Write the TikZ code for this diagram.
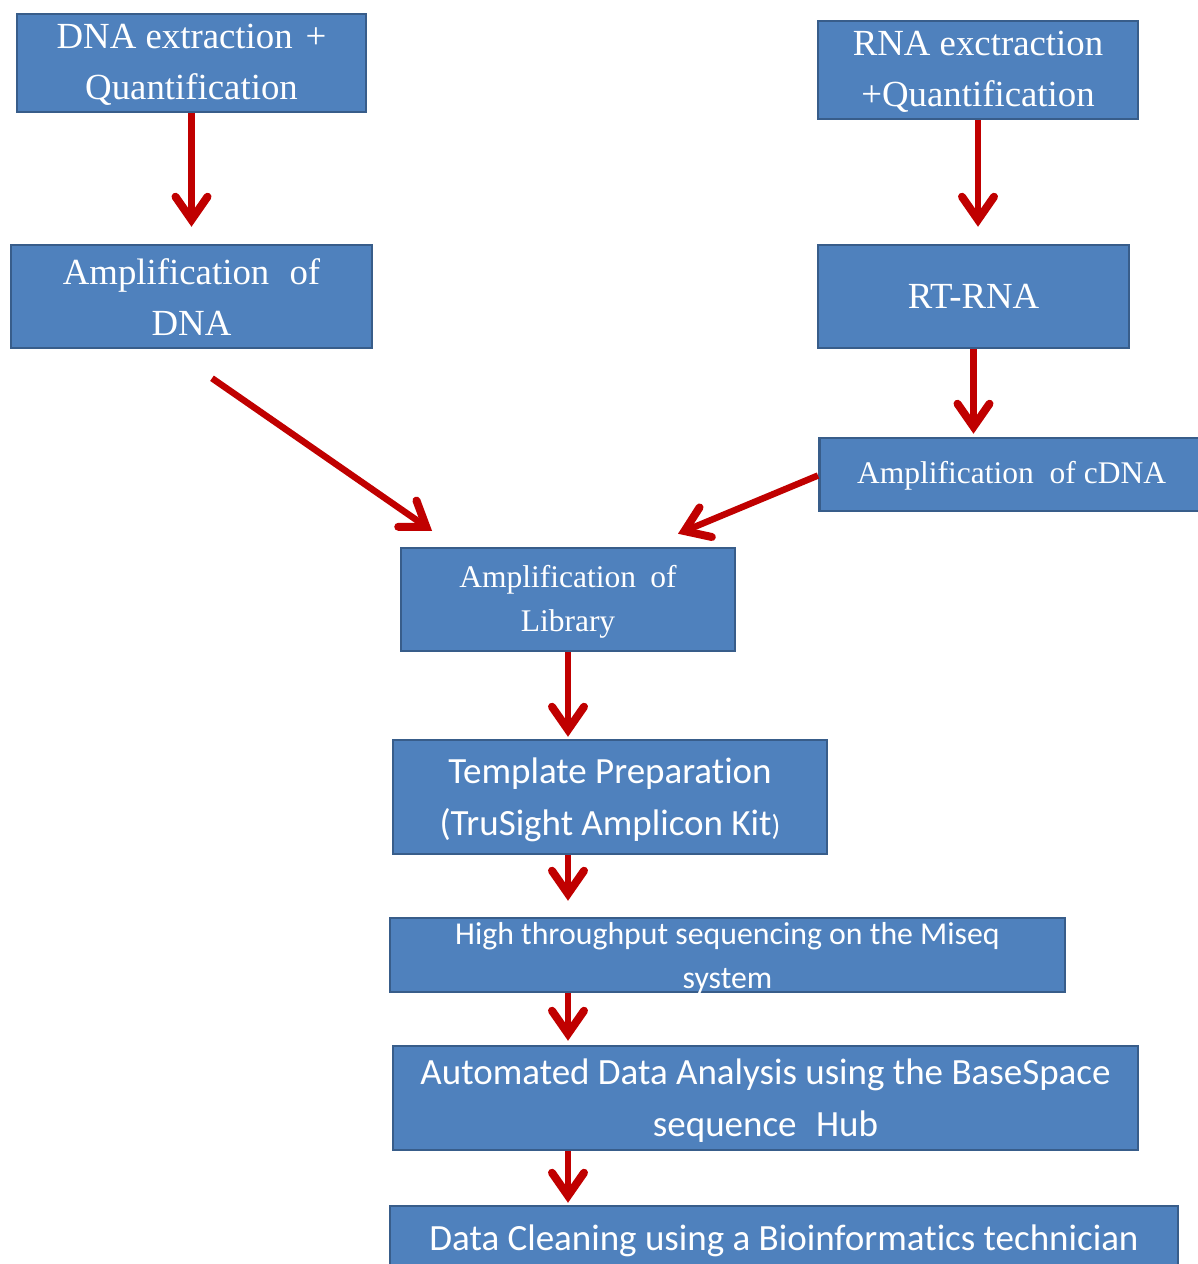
\documentclass[tikz,border=0pt]{standalone}
\usepackage{fontspec}
\setmainfont{Liberation Serif}
\newfontfamily\calfont[Ligatures=NoCommon]{Carlito}
\usetikzlibrary{arrows.meta,calc}
\definecolor{boxblue}{HTML}{4F81BD}
\definecolor{bdr}{HTML}{385D8A}
\definecolor{arrred}{HTML}{C00000}
\begin{document}
\begin{tikzpicture}[x=1pt,y=-1pt,
  box/.style={draw=bdr, fill=boxblue, line width=2.5pt, text=white, align=center, inner sep=0pt},
  serifA/.style={font=\fontsize{36.8}{51}\selectfont},
  serifB/.style={font=\fontsize{31.5}{44}\selectfont},
  sansA/.style={font=\calfont\fontsize{37}{52}\selectfont},
  sansB/.style={font=\calfont\fontsize{31.8}{44}\selectfont},
  txt/.style={text=white, align=center, inner sep=0pt},
  arr/.style={draw=arrred, line width=6.5pt, -{Straight Barb[length=23pt,width=32pt,line width=8pt,line cap=round,line join=miter]}}]
\useasboundingbox (0,0) rectangle (1198,1264);
\clip (0,0) rectangle (1198,1264);
% boxes
\node[box, minimum width=349pt, minimum height=98pt] (dna) at (191.5,63) {};
\node[txt, serifA] (dnatxt) at ($(dna.center)+(0,2)$) {DNA extraction\hspace{0.1em} +\\Quantification};
\node[box, minimum width=320pt, minimum height=98pt] (rna) at (978,70) {};
\node[txt, serifA] (rnatxt) at ($(rna.center)+(0,2)$) {RNA exctraction\\+Quantification};
\node[box, minimum width=361pt, minimum height=103pt] (ampdna) at (191.5,296.5) {};
\node[txt, serifA] (ampdnatxt) at ($(ampdna.center)+(0,1)$) {Amplification\hspace{0.3em} of\\DNA};
\node[box, serifA, minimum width=311pt, minimum height=103pt] (rt) at (973.5,296.5) {RT-RNA};
\node[box, minimum width=397pt, minimum height=73pt, anchor=west] (cdna) at (818,474.5) {};
\node[txt, serifB, anchor=west] (cdnatxt) at (857,476) {Amplification\hspace{0.25em} of cDNA};
\node[box, minimum width=334pt, minimum height=103pt] (lib) at (568,599.5) {};
\node[txt, serifB] (libtxt) at ($(lib.center)+(0,2)$) {Amplification\hspace{0.2em} of\\Library};
\node[box, minimum width=434pt, minimum height=114pt] (tmpl) at (610,797) {};
\node[txt, sansA] (tmpltxt) at ($(tmpl.center)+(0,3)$) {Template Preparation\\(TruSight Amplicon Kit{\fontsize{29}{29}\selectfont)}};
\node[box, minimum width=675pt, minimum height=74pt] (hts) at (727.5,955) {};
\node[txt, sansB] (htstxt) at ($(hts.center)+(0,3)$) {High throughput sequencing on the Miseq\\system};
\node[box, minimum width=745pt, minimum height=104pt] (auto) at (765.5,1098) {};
\node[txt, sansA] (autotxt) at ($(auto.center)+(0,3)$) {Automated Data Analysis using the BaseSpace\\sequence\hspace{0.3em} Hub};
\node[box, minimum width=788pt, minimum height=66pt] (clean) at (784,1239) {};
\node[txt, sansA] (cleantxt) at ($(clean.center)+(0,2)$) {Data Cleaning using a Bioinformatics technician};
% arrows
\draw[arr, shorten >=17pt] (dna.south) -- (dna.south |- ampdna.north);
\draw[arr, shorten >=17pt] (rna.south) -- (rna.south |- rt.north);
\draw[arr, shorten >=3pt] (rt.south) -- (rt.south |- cdna.north);
\draw[arr] ($(ampdna.south)+(20.5,29)$) -- ($(lib.north)+(-136,-16)$);
\draw[arr] ($(cdna.west)+(0,1)$) -- ($(lib.north)+(110,-13)$);
\draw[arr, shorten >=2pt] (lib.south) -- (lib.south |- tmpl.north);
\draw[arr, shorten >=16pt] (lib.south |- tmpl.south) -- (lib.south |- hts.north);
\draw[arr, shorten >=4pt] (lib.south |- hts.south) -- (lib.south |- auto.north);
\draw[arr, shorten >=2pt] (lib.south |- auto.south) -- (lib.south |- clean.north);
\end{tikzpicture}
\end{document}
